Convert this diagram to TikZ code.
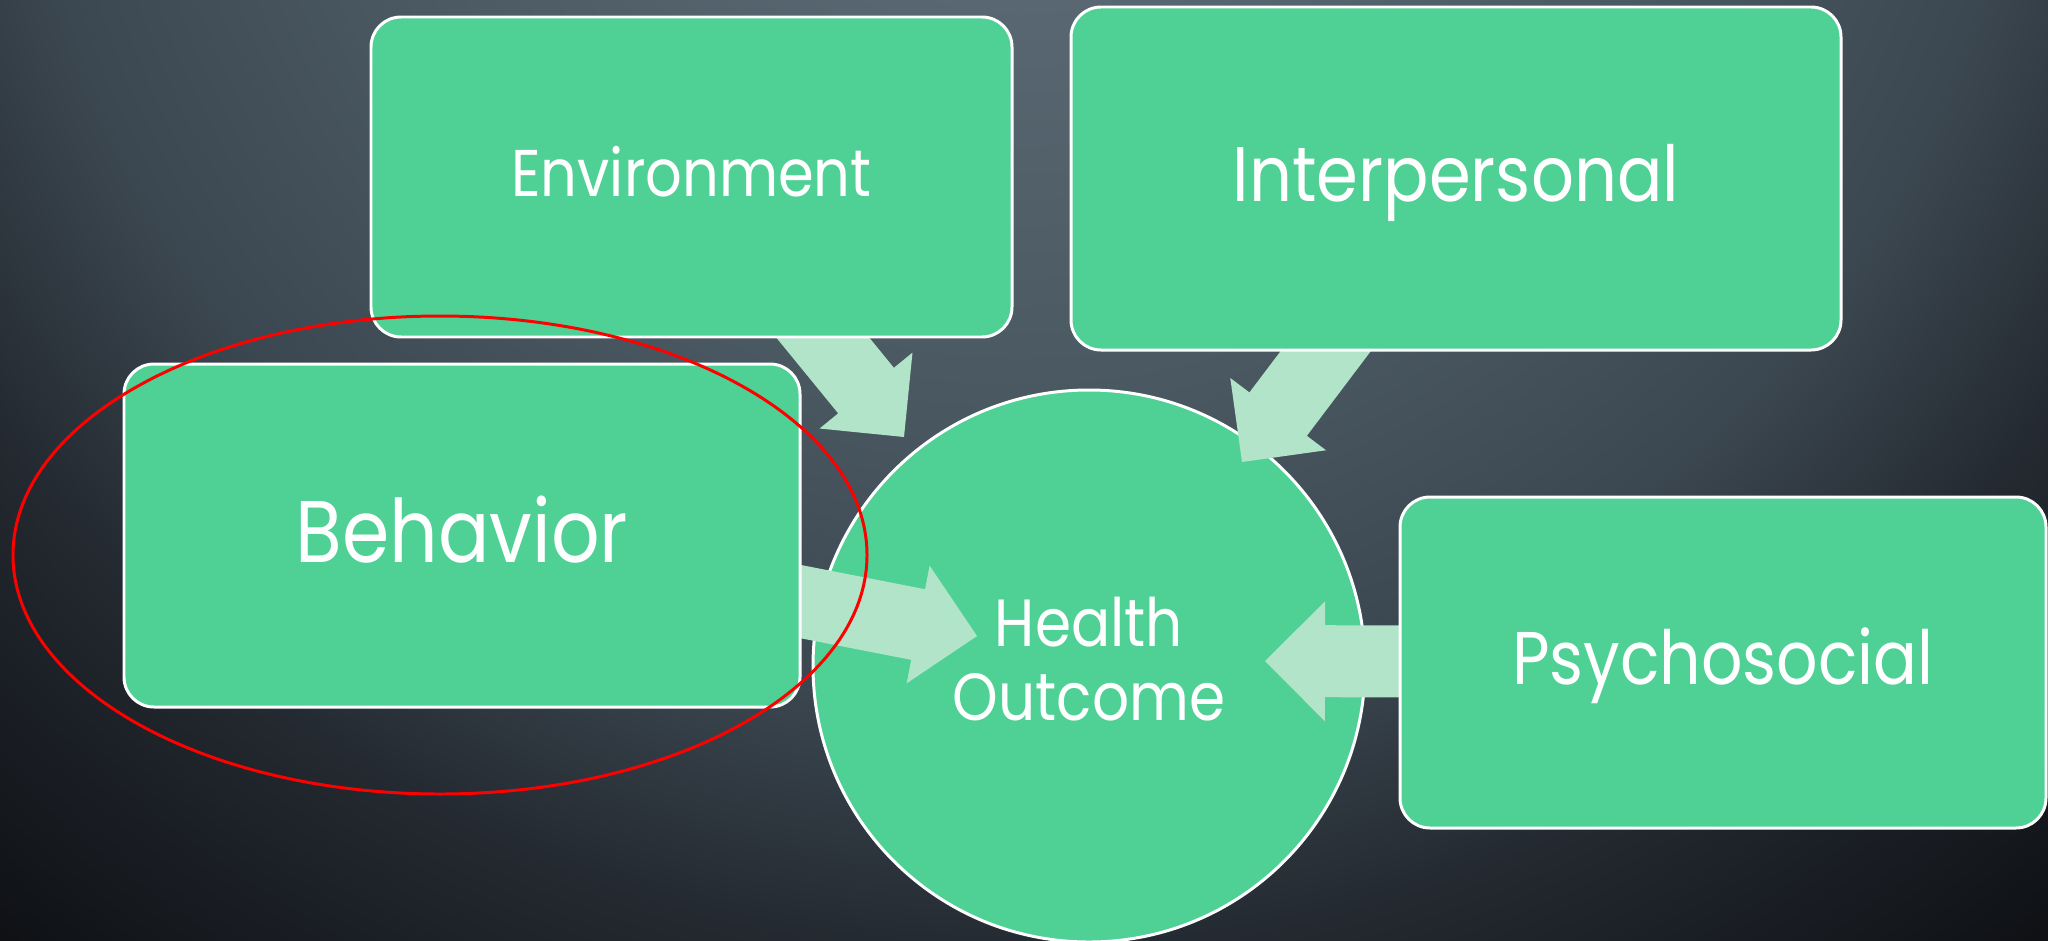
\documentclass[tikz,border=0pt]{standalone}
\usepackage{fontspec}
\setmainfont{Poppins}[FakeStretch=0.87]
\usetikzlibrary{calc}
\definecolor{boxgreen}{RGB}{79,209,149}
\definecolor{arrowgreen}{RGB}{177,228,200}
\definecolor{bgA}{RGB}{92,108,118}
\definecolor{bgB}{RGB}{88,103,113}
\definecolor{bgC}{RGB}{74,88,97}
\definecolor{bgD}{RGB}{60,72,81}
\definecolor{bgE}{RGB}{36,42,49}
\definecolor{bgF}{RGB}{15,17,21}
\pgfdeclareradialshading{slidebg}{\pgfpoint{0bp}{0bp}}{color(0bp)=(bgA); color(4.7bp)=(bgB); color(10.9bp)=(bgC); color(15.6bp)=(bgD); color(19.5bp)=(bgE); color(25bp)=(bgF); color(50bp)=(bgF)}
\pgfdeclarelayer{back}
\pgfdeclarelayer{mid}
\pgfsetlayers{back,mid,main}
\tikzset{
 factor/.style={rectangle, rounded corners=0.6cm, fill=boxgreen, draw=white, line width=1.7pt, text=white, inner sep=0pt, text depth=4.5pt},
 fatarrow/.style={fill=arrowgreen}
}
\newcommand{\blockarrow}[2]{%
 \coordinate (#2-base) at ($(#2)!1.2cm!(#1.center)$);
 \fill[fatarrow] ($(#1.center)!0.72cm!90:(#2)$) -- ($(#2-base)!0.72cm!-90:(#1.center)$) -- ($(#2-base)!1.2cm!-90:(#1.center)$) -- (#2)
  -- ($(#2-base)!1.2cm!90:(#1.center)$) -- ($(#2-base)!0.72cm!90:(#1.center)$) -- ($(#1.center)!0.72cm!-90:(#2)$) -- cycle;}
\begin{document}
\begin{tikzpicture}[x=0.02cm,y=-0.02cm]
\useasboundingbox (0,0) rectangle (2048,940);
\begin{pgfonlayer}{back}
 \clip (0,0) rectangle (2048,940);
 \shade[shading=slidebg] (-580,-1900) rectangle (2620,1300);
 \node[circle, fill=boxgreen, draw=white, line width=1.7pt, minimum size=552*0.02cm, inner sep=0pt, text=white, align=center, text depth=8pt, font=\fontsize{38}{42.4}\selectfont] (health) at (1089,666) {Health\\Outcome};
\end{pgfonlayer}
\foreach \name/\x/\y/\w/\h/\fs/\txt in {env/691.5/177/641/320/37.6/Environment, inter/1456/178.5/770/343/44/Interpersonal, behav/462/535.5/676/343/49.8/Behavior, psych/1723/662.5/646/331/42.5/Psychosocial}
 \node[factor, minimum width=\w*0.02cm, minimum height=\h*0.02cm, text height=0.7*\fs pt, font=\fontsize{\fs}{\fs}\selectfont] (\name) at (\x,\y) {\txt};
\coordinate (envtip) at (904,437);
\coordinate (intertip) at (1242,462);
\coordinate (behavtip) at (977,636);
\coordinate (psychtip) at (1265,661);
\begin{pgfonlayer}{mid}
 \blockarrow{env}{envtip}
 \blockarrow{inter}{intertip}
 \blockarrow{behav}{behavtip}
 \blockarrow{psych}{psychtip}
\end{pgfonlayer}
\draw[red, line width=1.7pt] (440,555) ellipse [x radius=427, y radius=239];
\end{tikzpicture}
\end{document}
